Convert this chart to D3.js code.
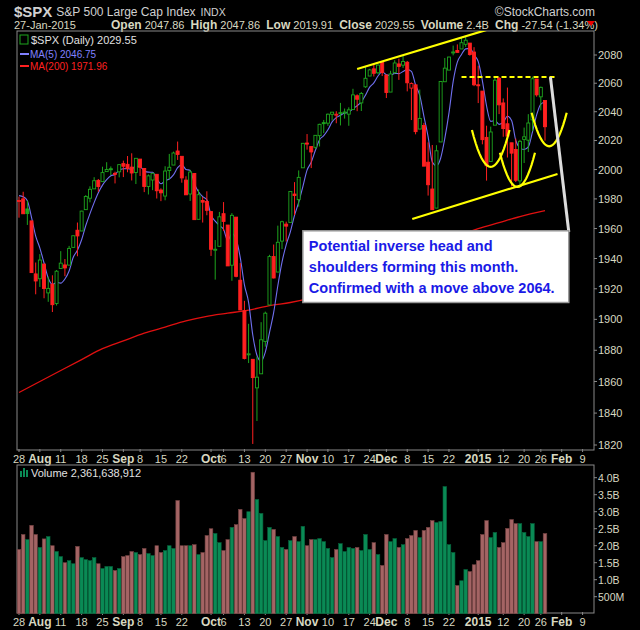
<!DOCTYPE html>
<html><head><meta charset="utf-8">
<script src="https://cdn.jsdelivr.net/npm/d3@7"></script>
<style>body{margin:0;background:#000}svg{display:block;font-family:"Liberation Sans",Arial,sans-serif}</style>
</head><body>
<svg id="c" width="640" height="630"></svg>
<script>
const priorCloses=[1973.63,1983.53,1987.01,1987.98];
const opens=[1978.25,1980.03,1973.21,1965.14,1929.80,1926.62,1936.34,1917.29,1923.03,1910.35,1933.43,1935.73,1935.60,1947.41,1958.87,1958.36,1972.73,1980.46,1986.82,1992.60,1991.74,1998.59,2000.54,1997.42,1998.45,2004.07,2003.57,2001.67,1998.00,2007.17,2000.73,1988.41,1992.85,1996.74,1986.04,1981.93,1999.30,2003.07,2012.74,2009.08,1992.78,1983.34,1997.32,1966.22,1978.96,1978.21,1971.44,1945.83,1948.12,1970.01,1962.36,1935.55,1967.68,1925.63,1905.65,1877.11,1874.18,1855.95,1864.91,1885.62,1909.38,1941.29,1931.02,1951.59,1962.97,1964.14,1983.29,1979.49,2001.20,2018.21,2015.81,2015.29,2023.33,2032.36,2032.01,2038.20,2037.75,2039.21,2039.74,2038.29,2041.48,2051.16,2046.16,2057.46,2065.07,2070.15,2067.36,2074.78,2065.78,2053.77,2067.45,2073.64,2072.78,2074.84,2056.55,2058.86,2027.92,2030.36,2005.03,1986.71,1973.77,2018.98,2061.04,2069.28,2081.48,2083.25,2084.30,2087.63,2088.49,2082.11,2058.90,2054.44,2022.15,2005.55,2030.61,2063.45,2046.13,2031.58,2018.40,2013.75,1992.25,2020.76,2020.19,2034.30,2062.98,2050.42,2047.86];
const highs=[1981.52,1984.85,1978.90,1965.14,1937.35,1942.92,1936.34,1927.91,1928.89,1932.38,1944.90,1939.65,1948.41,1955.23,1964.04,1971.99,1982.57,1988.57,1994.76,1993.54,2001.95,2005.04,2002.14,1998.55,2003.38,2006.12,2009.28,2011.17,2007.71,2007.17,2001.01,1996.66,1997.65,1996.74,1987.18,2002.28,2010.74,2012.34,2019.26,2009.08,1995.41,1999.79,1997.32,1986.37,1981.28,1985.17,1971.44,1952.32,1971.19,1977.84,1962.36,1970.36,1967.68,1936.98,1912.09,1897.11,1874.18,1876.01,1898.16,1905.03,1942.45,1949.31,1961.95,1965.27,1964.64,1985.05,1991.40,1999.40,2018.19,2024.46,2015.98,2023.77,2031.61,2034.26,2038.70,2039.82,2040.33,2046.18,2042.22,2043.07,2056.08,2052.14,2053.84,2071.46,2070.17,2074.21,2073.29,2075.76,2065.78,2068.77,2076.28,2077.34,2079.47,2075.78,2060.60,2058.86,2055.53,2032.25,2018.69,2016.89,2016.75,2061.23,2077.85,2078.76,2086.73,2087.56,2092.70,2093.55,2088.49,2085.58,2072.36,2054.44,2030.25,2029.61,2064.08,2064.43,2049.30,2056.93,2018.40,2021.35,2020.46,2028.94,2038.29,2064.62,2062.98,2057.62,2047.86];
const lows=[1967.31,1969.95,1962.42,1930.67,1916.37,1921.20,1913.77,1911.45,1904.78,1909.01,1933.43,1928.29,1935.60,1947.41,1941.50,1958.36,1972.73,1977.68,1986.82,1984.76,1991.74,1998.59,1996.20,1990.52,1994.65,1994.85,1998.14,1992.54,1990.10,1995.60,1984.61,1982.99,1985.93,1980.26,1978.48,1979.06,1993.29,2003.07,2006.59,1991.01,1982.77,1978.63,1965.99,1966.22,1964.04,1968.96,1941.72,1926.03,1948.12,1958.43,1935.10,1925.25,1927.56,1906.05,1874.14,1871.79,1820.66,1835.02,1864.91,1882.30,1909.38,1926.83,1931.02,1946.27,1951.37,1964.14,1969.04,1974.75,2001.20,2013.68,2001.01,2014.01,2015.86,2025.07,2030.17,2033.78,2031.95,2030.44,2035.20,2030.20,2041.48,2040.37,2040.49,2056.75,2065.07,2064.75,2066.37,2065.06,2049.57,2053.77,2066.65,2062.34,2070.81,2054.27,2034.17,2024.26,2027.92,2002.33,1982.26,1972.56,1973.77,2018.98,2061.03,2069.28,2079.77,2081.86,2084.30,2085.75,2079.53,2057.94,2046.04,2017.34,1992.44,2005.55,2030.61,2038.33,2022.58,2008.25,1988.44,1991.47,1988.12,2004.49,2012.04,2026.38,2050.54,2040.97,2019.91];
const closes=[1978.91,1969.95,1970.07,1930.67,1925.15,1938.99,1920.21,1920.24,1909.57,1931.59,1936.92,1933.75,1946.72,1955.18,1955.06,1971.74,1981.60,1986.51,1992.37,1988.40,1997.92,2000.02,2000.12,1996.74,2003.37,2002.28,2000.72,1997.65,2007.71,2001.54,1988.44,1995.69,1997.45,1985.54,1984.13,1998.98,2001.57,2011.36,2010.40,1994.29,1982.77,1998.30,1965.99,1982.85,1977.80,1972.29,1946.16,1946.17,1967.90,1964.82,1935.10,1968.89,1928.21,1906.13,1874.74,1877.70,1862.49,1862.76,1886.76,1904.01,1941.28,1927.11,1950.82,1964.58,1961.63,1985.05,1982.30,1994.65,2018.05,2017.81,2012.10,2023.57,2031.21,2031.92,2038.26,2039.68,2038.25,2039.33,2039.82,2041.32,2051.80,2048.72,2052.75,2063.50,2069.41,2067.03,2072.83,2067.56,2053.44,2066.55,2074.33,2071.92,2075.37,2060.31,2059.82,2026.14,2035.33,2002.33,1989.63,1972.74,2012.89,2061.23,2070.65,2078.54,2082.17,2081.88,2088.77,2090.57,2080.35,2058.90,2058.20,2020.58,2002.61,2025.90,2062.14,2044.81,2028.26,2023.03,2011.27,1992.67,2019.42,2022.55,2032.12,2063.15,2051.82,2057.09,2029.55];
const volumes=[1.89,2.33,2.18,2.6,2.33,1.95,2.2,2.27,2.0,1.83,1.68,1.5,1.56,1.47,1.98,1.65,1.59,1.56,1.65,1.47,1.33,1.39,1.39,1.27,1.33,1.68,1.71,1.83,1.8,1.74,1.92,1.77,1.71,2.0,1.8,1.86,2.0,1.92,3.33,2.0,2.0,2.0,2.03,1.74,1.8,2.3,2.5,2.36,2.09,1.86,2.18,2.54,2.62,3.07,2.8,3.0,4.16,3.36,2.95,2.15,2.54,2.48,2.27,1.95,1.89,2.15,2.27,2.12,2.57,2.0,2.18,2.18,2.21,2.12,1.92,1.65,1.89,2.06,1.83,1.95,1.92,1.95,1.86,2.33,1.89,2.09,1.74,1.42,2.33,2.12,2.21,1.95,2.03,2.21,2.3,2.45,2.24,2.45,2.54,2.74,2.68,2.71,3.74,2.03,1.8,0.83,0.97,1.3,1.24,1.44,1.56,2.33,2.74,2.24,2.39,1.95,2.09,2.51,2.77,2.65,2.65,2.39,2.27,2.65,2.12,2.12,2.36];
const ma200Idx=[0,5,10,15,20,25,30,35,40,45,50,55,60,65,70,75,80,85,90,95,100,105,110,115,120,126];
const ma200Val=[1853,1860,1867,1874,1881,1886,1891,1895,1899,1902,1904,1906,1909,1911,1914,1918,1925,1931,1937,1943,1949,1955,1960,1964,1968,1972];
const xLabels=["28","Aug","11","18","25","Sep","8","15","22","Oct","6","13","20","27","Nov","10","17","24","Dec","8","15","22","2015","12","20","26","Feb","9"];
const xLabelIdx=[0,5,10,15,20,25,29,34,39,46,49,54,59,64,69,74,79,84,88,93,98,103,110,116,121,125,130,135];
const priceTicks=[1820,1840,1860,1880,1900,1920,1940,1960,1980,2000,2020,2040,2060,2080];
const volTicks=[0.5,1,1.5,2,2.5,3,3.5,4];
const volTickLabels=["500M","1.0B","1.5B","2.0B","2.5B","3.0B","3.5B","4.0B"];
const noteLines=["Potential inverse head and","shoulders forming this month.","Confirmed with a move above 2064."];

const svg=d3.select("#c");
svg.append("rect").attr("width",640).attr("height",630).attr("fill","#000");
const L=17,R=594,PT=31,PB=450,VT=465,VB=613;
const x=d3.scaleLinear().domain([0,126]).range([19,545]);
const y=d3.scaleLog().domain([1820,2080]).range([445,55]);
const yv=d3.scaleLinear().domain([0,4]).range([613.7,477.7]);
const txt="#d8d8c0";

// header
const h=svg.append("g");
const t1=h.append("text").attr("x",14).attr("y",17).attr("fill","#d0d0d0").attr("font-size",15).attr("font-weight","bold").text("$SPX");
const x2=14+t1.node().getComputedTextLength()+4;
const t2=h.append("text").attr("x",x2).attr("y",16).attr("fill","#d0d0d0").attr("font-size",12).text("S&P 500 Large Cap Index");
const x3=x2+t2.node().getComputedTextLength()+5;
h.append("text").attr("x",x3).attr("y",16).attr("fill","#d0d0d0").attr("font-size",10.5).text("INDX");
h.append("text").attr("x",595).attr("y",16).attr("fill","#d0d0d0").attr("font-size",12).attr("text-anchor","end").text("©StockCharts.com");
h.append("text").attr("x",14).attr("y",29).attr("fill",txt).attr("font-size",11).text("27-Jan-2015");
const hd=h.append("text").attr("x",111).attr("y",29).attr("font-size",11).attr("fill",txt);
[["Open",1],[" 2047.86  ",0],["High",1],[" 2047.86  ",0],["Low",1],[" 2019.91  ",0],["Close",1],[" 2029.55  ",0],["Volume",1],[" 2.4B  ",0],["Chg",1],[" -27.54 (-1.34%) ",0]].forEach(([t,b])=>hd.append("tspan").attr("font-weight",b?"bold":"normal").attr("font-size",b?12:11).attr("xml:space","preserve").text(t));
h.append("path").attr("d","M587,21l8,0l-4,5z").attr("fill","#e00");

// price panel frame
svg.append("clipPath").attr("id","pc").append("rect").attr("x",L).attr("y",PT).attr("width",R-L).attr("height",PB-PT);
svg.append("rect").attr("x",L).attr("y",PT).attr("width",R-L).attr("height",PB-PT).attr("fill","none").attr("stroke","#888");
const pg=svg.append("g").attr("clip-path","url(#pc)");

// MA200
pg.append("path").datum(ma200Idx.map((d,i)=>[d,ma200Val[i]])).attr("fill","none").attr("stroke","#e01010").attr("stroke-width",1.3)
 .attr("d",d3.line().x(d=>x(d[0])).y(d=>y(d[1])).curve(d3.curveMonotoneX));
// MA5
const allC=priorCloses.concat(closes);
const ma5=closes.map((c,i)=>d3.mean(allC.slice(i,i+5)));
pg.append("path").datum(ma5).attr("fill","none").attr("stroke","#7070f0").attr("stroke-width",1.1)
 .attr("d",d3.line().x((d,i)=>x(i)).y(d=>y(d)).curve(d3.curveMonotoneX));

// candles
closes.forEach((c,i)=>{
 const o=opens[i],prev=i?closes[i-1]:priorCloses[3];
 const col=c<prev?"#ff2020":"#1ea51e";
 const g=pg.append("g");
 g.append("line").attr("x1",x(i)).attr("x2",x(i)).attr("y1",y(highs[i])).attr("y2",y(lows[i])).attr("stroke",col).attr("stroke-width",1);
 const top=y(Math.max(o,c)),bot=y(Math.min(o,c));
 g.append("rect").attr("x",x(i)-1.5).attr("width",3).attr("y",top).attr("height",Math.max(bot-top,1))
  .attr("fill",c<o?col:"#000").attr("stroke",col).attr("stroke-width",0.9);
});

// annotations
const Y="#ffff00";
const ln=(a,b,c,d)=>pg.append("line").attr("x1",x(a)).attr("y1",y(b)).attr("x2",x(c)).attr("y2",y(d));
ln(81,2070.1,112,2097.9).attr("stroke",Y).attr("stroke-width",2.2);
ln(112,2097.9,130,2108.6).attr("stroke",Y).attr("stroke-width",2.2);
ln(94.2,1966.4,129,1997).attr("stroke",Y).attr("stroke-width",2.2);
ln(106,2064.4,129,2064.4).attr("stroke",Y).attr("stroke-width",2).attr("stroke-dasharray","5,3");
function arc(cx,hw,bottom,top){
 const pts=d3.range(-1,1.001,0.1).map(t=>[cx+t*hw, y(bottom)+(y(top)-y(bottom))*t*t]);
 pg.append("path").attr("d",d3.line().x(p=>x(p[0])).y(p=>p[1])(pts)).attr("fill","none").attr("stroke",Y).attr("stroke-width",2.2);
}
arc(113,4.5,2001.8,2027.3);
arc(119.4,4.2,1988.1,2011.5);
arc(127,4.2,2016,2039.3);
pg.append("line").attr("x1",x(127.3)).attr("y1",y(2064.4)).attr("x2",x(131.7)).attr("y2",y(1957.7)).attr("stroke","#ddd").attr("stroke-width",3);

// note box
const bx=x(68),by=y(1958.5),bw=x(131.7)-x(68),bh=y(1911)-y(1958.5);
svg.append("rect").attr("x",bx).attr("y",by).attr("width",bw).attr("height",bh).attr("fill","#fff").attr("stroke","#999").attr("stroke-width",1.5);
noteLines.forEach((t,i)=>svg.append("text").attr("x",bx+6).attr("y",by+20+i*21).attr("fill","#1a1ae6").attr("font-size",14.5).attr("font-weight","bold").text(t));

// legend
const lg=svg.append("g");
lg.append("rect").attr("x",20).attr("y",35).attr("width",8).attr("height",9).attr("fill","none").attr("stroke","#1ea51e");
lg.append("text").attr("x",31).attr("y",44).attr("fill","#e0e0e0").attr("font-size",11).text("$SPX (Daily) 2029.55");
lg.append("line").attr("x1",20).attr("x2",29).attr("y1",54).attr("y2",54).attr("stroke","#8080ff").attr("stroke-width",2);
lg.append("text").attr("x",30).attr("y",58).attr("fill","#8080ff").attr("font-size",10).text("MA(5) 2046.75");
lg.append("line").attr("x1",20).attr("x2",29).attr("y1",66).attr("y2",66).attr("stroke","#ff2020").attr("stroke-width",2);
lg.append("text").attr("x",30).attr("y",70).attr("fill","#ff2020").attr("font-size",10).text("MA(200) 1971.96");

// price axis
priceTicks.forEach(t=>{
 svg.append("line").attr("x1",R).attr("x2",R+3).attr("y1",y(t)).attr("y2",y(t)).attr("stroke","#888");
 svg.append("text").attr("x",R+4).attr("y",y(t)+4).attr("fill",txt).attr("font-size",11).text(t);
});

// x labels (both)
function xl(yy){
 xLabels.forEach((t,i)=>{
  const isM=/[A-Za-z]/.test(t)||t==="2015";
  svg.append("text").attr("x",x(xLabelIdx[i])).attr("y",yy).attr("text-anchor","middle").attr("fill",txt)
   .attr("font-size",isM?12:11).attr("font-weight",isM?"bold":"normal").text(t);
  svg.append("line").attr("x1",x(xLabelIdx[i])).attr("x2",x(xLabelIdx[i])).attr("y1",yy-11).attr("y2",yy-14).attr("stroke","#888");
 });
}
xl(463); xl(626);

// volume panel
svg.append("rect").attr("x",L).attr("y",VT).attr("width",R-L).attr("height",VB-VT).attr("fill","none").attr("stroke","#888");
volumes.forEach((v,i)=>{
 const prev=i?closes[i-1]:priorCloses[3];
 const up=closes[i]>=prev;
 svg.append("rect").attr("x",x(i)-1.8).attr("width",3.6).attr("y",yv(v)).attr("height",yv(0)-yv(v))
  .attr("fill",up?"#0a8a55":"#a46464").attr("stroke",up?"#06603a":"#704040").attr("stroke-width",0.6);
});
volTicks.forEach((t,i)=>{
 svg.append("line").attr("x1",R).attr("x2",R+3).attr("y1",yv(t)).attr("y2",yv(t)).attr("stroke","#888");
 svg.append("text").attr("x",R+4).attr("y",yv(t)+4).attr("fill",txt).attr("font-size",10.5).text(volTickLabels[i]);
});
svg.append("rect").attr("x",20).attr("y",471).attr("width",2).attr("height",6).attr("fill","#0a8a55");
svg.append("rect").attr("x",23).attr("y",468).attr("width",2).attr("height",9).attr("fill","#0a8a55");
svg.append("rect").attr("x",26).attr("y",470).attr("width",2).attr("height",7).attr("fill","#0a8a55");
svg.append("text").attr("x",31).attr("y",477).attr("fill","#e0e0e0").attr("font-size",11).text("Volume 2,361,638,912");
</script></body></html>
